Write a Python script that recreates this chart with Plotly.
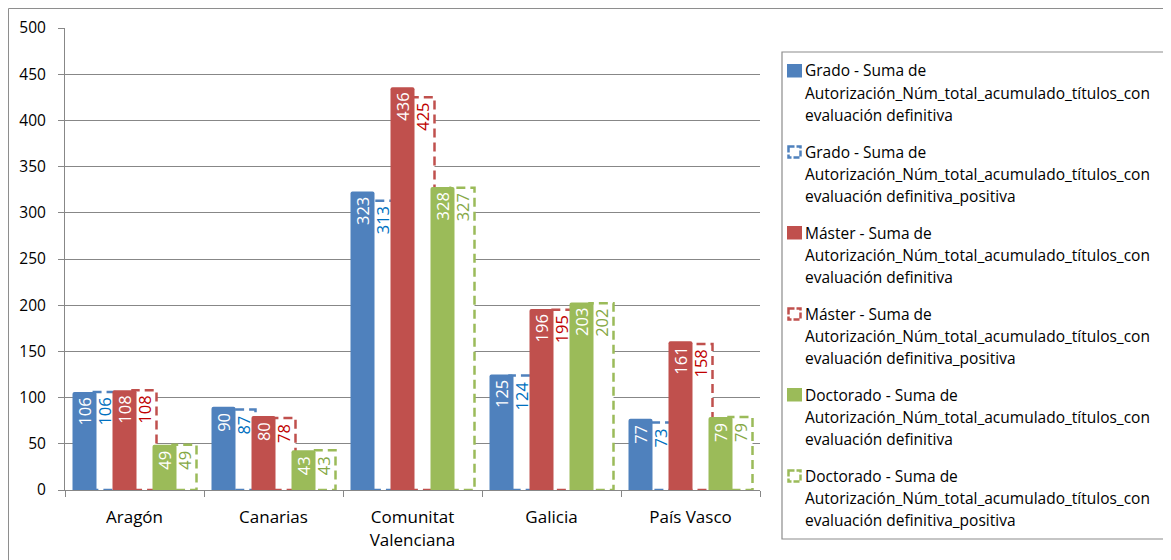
import plotly.graph_objects as go

# ---------------- data ----------------
categories = ["Aragón", "Canarias", "Comunitat<br>Valenciana", "Galicia", "País Vasco"]
grado_total = [106, 90, 323, 125, 77]
grado_pos = [106, 87, 313, 124, 73]
master_total = [108, 80, 436, 196, 161]
master_pos = [108, 78, 425, 195, 158]
doct_total = [49, 43, 328, 203, 79]
doct_pos = [49, 43, 327, 202, 79]
y_ticks = [0, 50, 100, 150, 200, 250, 300, 350, 400, 450, 500]

legend_names = [
    ["Grado - Suma de", "Autorización_Núm_total_acumulado_títulos_con", "evaluación definitiva"],
    ["Grado - Suma de", "Autorización_Núm_total_acumulado_títulos_con", "evaluación definitiva_positiva"],
    ["Máster - Suma de", "Autorización_Núm_total_acumulado_títulos_con", "evaluación definitiva"],
    ["Máster - Suma de", "Autorización_Núm_total_acumulado_títulos_con", "evaluación definitiva_positiva"],
    ["Doctorado - Suma de", "Autorización_Núm_total_acumulado_títulos_con", "evaluación definitiva"],
    ["Doctorado - Suma de", "Autorización_Núm_total_acumulado_títulos_con", "evaluación definitiva_positiva"],
]

# ---------------- layout constants ----------------
# the page body adds an 8px margin, so the figure is 8px smaller and all
# pixel positions below are given in page coordinates minus that offset
PAGE_OFF = 8
W, H = 1171 - PAGE_OFF, 560 - PAGE_OFF
L, R, T, B = 65 - PAGE_OFF, 760 - PAGE_OFF, 28 - PAGE_OFF, 490 - PAGE_OFF
PW, PH = R - L, B - T
CAT_PX = PW / 5.0
BAR_W = 24 / CAT_PX
FONT = "Open Sans"

def px_x(p):
    return (p - PAGE_OFF - L) / PW

def px_y(p):
    return (B - (p - PAGE_OFF)) / PH

# series: (values, color, dashed?, offset_px, label color)
series = [
    (grado_total, "#4F81BD", False, -62, "white"),
    (grado_pos, "#4F81BD", True, -42, "#0070C0"),
    (master_total, "#C0504D", False, -22, "white"),
    (master_pos, "#C0504D", True, -2, "#C00000"),
    (doct_total, "#9BBB59", False, 18, "white"),
    (doct_pos, "#9BBB59", True, 38, "#86A844"),
]

idx = list(range(len(categories)))
fig = go.Figure()

# dashed (positive) series drawn first, on main axes
for vals, col, dashed, off_px, lc in series:
    if not dashed:
        continue
    off = off_px / CAT_PX
    fig.add_trace(go.Bar(x=idx, y=vals, width=BAR_W, offset=off,
                         marker=dict(color="white", line=dict(width=0)),
                         showlegend=False, hoverinfo="skip", xaxis="x", yaxis="y"))
    xs, ys = [], []
    for i, v in zip(idx, vals):
        x0, x1 = i + off, i + off + BAR_W
        xs += [x0, x0, x1, x1, x0, None]
        ys += [0, v, v, 0, 0, None]
    fig.add_trace(go.Scatter(x=xs, y=ys, mode="lines",
                             line=dict(color=col, width=2.5, dash="9px,5px"),
                             cliponaxis=False, showlegend=False, hoverinfo="skip",
                             xaxis="x", yaxis="y"))

# solid series on overlaying axes (drawn above)
for vals, col, dashed, off_px, lc in series:
    if dashed:
        continue
    off = off_px / CAT_PX
    fig.add_trace(go.Bar(x=idx, y=vals, width=BAR_W, offset=off,
                         marker=dict(color=col, line=dict(width=0), cornerradius=2),
                         showlegend=False, hoverinfo="skip", xaxis="x2", yaxis="y2"))

annotations = []
# data labels
for vals, col, dashed, off_px, lc in series:
    off = off_px / CAT_PX
    for i, v in zip(idx, vals):
        annotations.append(dict(x=i + off + BAR_W / 2, y=v, xref="x", yref="y",
                                text=str(v), textangle=-90, showarrow=False,
                                xanchor="center", yanchor="top", yshift=-4,
                                font=dict(family=FONT, size=16.5, color=lc)))

shapes = []
# outer chart border
shapes.append(dict(type="rect", xref="paper", yref="paper",
                   x0=px_x(8.5), x1=px_x(1200), y0=px_y(8.5), y1=px_y(600),
                   line=dict(color="#8E8E8E", width=1), fillcolor="rgba(0,0,0,0)",
                   layer="below"))
# legend box
shapes.append(dict(type="rect", xref="paper", yref="paper",
                   x0=px_x(782), x1=px_x(1200), y0=px_y(52), y1=px_y(539),
                   line=dict(color="#8C8C8C", width=1.2), fillcolor="white"))

for k, ((vals, col, dashed, off_px, lc), lines) in enumerate(zip(series, legend_names)):
    y0 = 70.5 + 81 * k
    if dashed:
        shapes.append(dict(type="rect", xref="paper", yref="paper",
                           x0=px_x(788.5), x1=px_x(800.5), y0=px_y(65.5 + 81 * k), y1=px_y(76.5 + 81 * k),
                           line=dict(color=col, width=2.5, dash="6px,2px"), fillcolor="white"))
    else:
        shapes.append(dict(type="rect", xref="paper", yref="paper",
                           x0=px_x(787), x1=px_x(802), y0=px_y(64 + 81 * k), y1=px_y(77.5 + 81 * k),
                           line=dict(color=col, width=0), fillcolor=col))
    for j, t in enumerate(lines):
        annotations.append(dict(x=px_x(803), y=px_y(y0 + 22.3 * j), xref="paper", yref="paper",
                                text=t, showarrow=False, xanchor="left", yanchor="middle",
                                font=dict(family=FONT, size=15.5, color="#000000")))

grid_col = "#878787"
fig.update_layout(
    width=W, height=H,
    margin=dict(l=L, r=W - R, t=T, b=H - B, autoexpand=False),
    paper_bgcolor="white", plot_bgcolor="white",
    barmode="overlay",
    showlegend=False,
    font=dict(family=FONT, size=15.5, color="#000000"),
    xaxis=dict(range=[-0.5, 4.5], tickmode="array", tickvals=idx, ticktext=categories,
               ticks="", showgrid=False, zeroline=False,
               showline=True, linecolor=grid_col, linewidth=1,
               tickfont=dict(family=FONT, size=17, color="#000000"),
               ticklabelstandoff=12,
               minor=dict(tickmode="array", tickvals=[-0.5, 0.5, 1.5, 2.5, 3.5, 4.5],
                          ticks="outside", ticklen=6, tickcolor=grid_col, showgrid=False),
               fixedrange=True),
    yaxis=dict(range=[0, 500], tickmode="array", tickvals=y_ticks,
               ticks="outside", ticklen=6, tickcolor=grid_col,
               showgrid=True, gridcolor=grid_col, gridwidth=1, zeroline=False,
               showline=True, linecolor=grid_col, linewidth=1,
               tickfont=dict(family=FONT, size=15.5, color="#000000"),
               ticklabelstandoff=9, fixedrange=True),
    xaxis2=dict(range=[-0.5, 4.5], overlaying="x", visible=False, showgrid=False,
                zeroline=False, fixedrange=True),
    yaxis2=dict(range=[0, 500], overlaying="y", visible=False, showgrid=False,
                zeroline=False, fixedrange=True),
    annotations=annotations,
    shapes=shapes,
)

fig.write_html("out.html")
